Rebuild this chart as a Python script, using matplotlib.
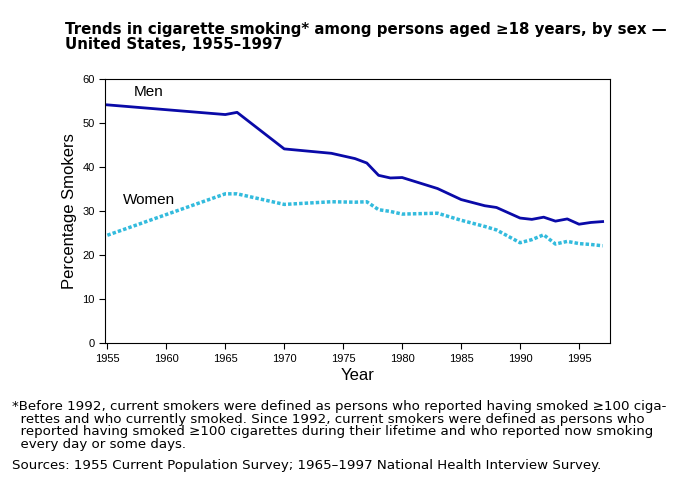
import matplotlib
matplotlib.use("Agg")
import matplotlib.pyplot as plt

years = [1955, 1965, 1966, 1970, 1974, 1976, 1977, 1978, 1979, 1980, 1983, 1985, 1987, 1988, 1990, 1991, 1992, 1993, 1994, 1995, 1996, 1997]
men = [54.1, 51.9, 52.4, 44.1, 43.1, 41.9, 40.9, 38.1, 37.5, 37.6, 35.1, 32.6, 31.2, 30.8, 28.4, 28.1, 28.6, 27.7, 28.2, 27.0, 27.4, 27.6]
women = [24.5, 33.9, 33.9, 31.5, 32.1, 32.0, 32.1, 30.3, 29.9, 29.3, 29.5, 27.9, 26.5, 25.7, 22.8, 23.5, 24.6, 22.5, 23.1, 22.6, 22.4, 22.1]
xticks = [1955, 1960, 1965, 1970, 1975, 1980, 1985, 1990, 1995]
yticks = [0, 10, 20, 30, 40, 50, 60]

plt.rcParams['font.family'] = ['Liberation Sans', 'DejaVu Sans']
fig = plt.figure(figsize=(7, 4.93), dpi=100)
ax = fig.add_axes([0.15, 0.304, 0.721, 0.536])
ax.plot(years, men, color='#0a0aa8', lw=2)
ax.plot(years, women, color='#33bbdd', lw=2.5, ls=(0, (1, 0.6)))
ax.set_xlim(1954.8, 1997.6)
ax.set_ylim(0, 60)
ax.set_xticks(xticks)
ax.set_yticks(yticks)
ax.tick_params(labelsize=8, length=4)
ax.set_xlabel('Year', fontsize=12, labelpad=3)
ax.set_ylabel('Percentage Smokers', fontsize=12)
ax.text(1957.2, 56, 'Men', fontsize=11)
ax.text(1956.3, 31.5, 'Women', fontsize=11)
fig.text(0.093, 0.955, 'Trends in cigarette smoking* among persons aged ≥18 years, by sex —\nUnited States, 1955–1997',
         fontsize=10.8, fontweight='bold', va='top', linespacing=1.0, family='DejaVu Sans')
fig.text(0.017, 0.188, '*Before 1992, current smokers were defined as persons who reported having smoked ≥100 ciga-\n'
         '  rettes and who currently smoked. Since 1992, current smokers were defined as persons who\n'
         '  reported having smoked ≥100 cigarettes during their lifetime and who reported now smoking\n'
         '  every day or some days.', fontsize=9.6, va='top', linespacing=0.95, family='DejaVu Sans')
fig.text(0.017, 0.068, 'Sources: 1955 Current Population Survey; 1965–1997 National Health Interview Survey.',
         fontsize=9.6, va='top', family='DejaVu Sans')
fig.savefig('out.png')
